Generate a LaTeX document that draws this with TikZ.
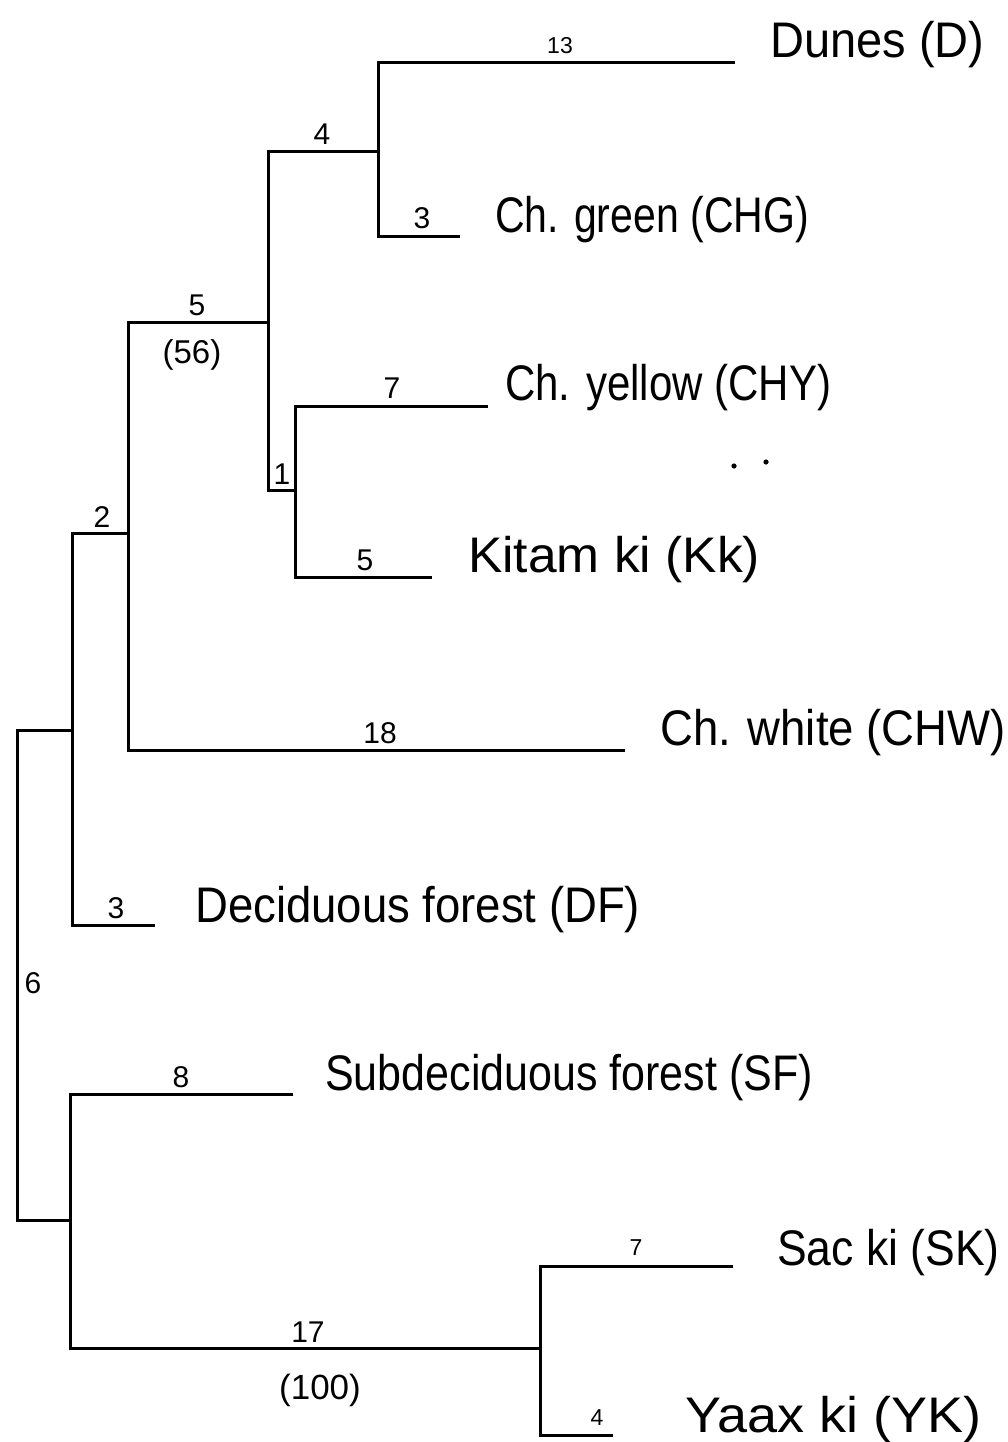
\documentclass[tikz,border=0pt]{standalone}
\usepackage{fontspec}
\setmainfont{Liberation Sans}
\newcommand{\hw}[2]{\scalebox{#1}[1]{#2}}
\begin{document}
\begin{tikzpicture}[x=1pt,y=-1pt,
  br/.style={line width=3pt, line join=miter},
  num/.style={font=\fontsize{30}{32}\selectfont, inner sep=0pt},
  snum/.style={font=\fontsize{23}{25}\selectfont, inner sep=0pt},
  leaf/.style={font=\fontsize{50}{56}\selectfont, anchor=base west, inner sep=0pt}]
\useasboundingbox[fill=white] (0,0) rectangle (1008,1442);

% leaf ends
\coordinate (Dend)   at (735,63);
\coordinate (CHGend) at (460,236);
\coordinate (CHYend) at (488,406);
\coordinate (KKend)  at (432,577);
\coordinate (CHWend) at (625,750);
\coordinate (DFend)  at (155,925);
\coordinate (SFend)  at (293,1094);
\coordinate (SKend)  at (733,1266);
\coordinate (YKend)  at (613,1435);
% internal nodes (x of vertical bar, y where parent branch attaches)
\coordinate (a) at (378,152);
\coordinate (b) at (295,490);
\coordinate (c) at (268,322);
\coordinate (d) at (128,533);
\coordinate (e) at (72,730);
\coordinate (f) at (540,1348);
\coordinate (g) at (70,1220);
\coordinate (r) at (17,975);

% branches
\draw[br] (Dend) -- (Dend -| a) -- (CHGend -| a) -- (CHGend);
\draw[br] (CHYend) -- (CHYend -| b) -- (KKend -| b) -- (KKend);
\draw[br] (a) -- (a -| c) -- (b -| c) -- (b);
\draw[br] (c) -- (c -| d) -- (CHWend -| d) -- (CHWend);
\draw[br] (d) -- (d -| e) -- (DFend -| e) -- (DFend);
\draw[br] (SKend) -- (SKend -| f) -- (YKend -| f) -- (YKend);
\draw[br] (SFend) -- (SFend -| g) -- (f -| g) -- (f);
\draw[br] (e) -- (e -| r) -- (g -| r) -- (g);

% branch numbers
\node[snum] (n13)  at (560,46)  {13};
\node[num]  (n4)   at (322,134) {4};
\node[num]  (n3a)  at (422,218) {3};
\node[num]  (n5a)  at (197,305) {5};
\node[num,font=\fontsize{33}{35}\selectfont]  (n56)  at (192,355) {(56)};
\node[num]  (n7a)  at (392,388) {7};
\node[num]  (n1)   at (282,474) {1};
\node[num]  (n5b)  at (365,560) {5};
\node[num]  (n2)   at (102,517) {2};
\node[num]  (n18)  at (380,733) {18};
\node[num]  (n3b)  at (116,908) {3};
\node[num]  (n6)   at (33,983)  {6};
\node[num]  (n8)   at (181,1077) {8};
\node[num]  (n17)  at (308,1332) {17};
\node[num,font=\fontsize{35}{37}\selectfont] (n100) at (320,1390) {(100)};
\node[snum] (n7b)  at (636,1248) {7};
\node[snum] (n4b)  at (597,1418) {4};

% leaf names
\node[leaf] (D)   at (770,58)   {\hw{0.94}{Dunes (D)}};
\node[leaf] (CHG) at (495,232)  {\hw{0.82}{Ch. green (CHG)}};
\node[leaf] (CHY) at (505,400)  {\hw{0.84}{Ch. yellow (CHY)}};
\node[leaf] (KK)  at (468,572)  {\hw{1.03}{Kitam ki (Kk)}};
\node[leaf] (CHW) at (660,745)  {\hw{0.91}{Ch. white (CHW)}};
\node[leaf] (DF)  at (195,922)  {\hw{0.91}{Deciduous forest (DF)}};
\node[leaf] (SF)  at (325,1090) {\hw{0.86}{Subdeciduous forest (SF)}};
\node[leaf] (SK)  at (777,1265) {\hw{0.89}{Sac ki (SK)}};
\node[leaf] (YK)  at (685,1432) {\hw{1.08}{Yaax ki (YK)}};

% stray dots
\fill (734,466) circle (2.6pt);
\fill (766,462) circle (2.6pt);
\end{tikzpicture}
\end{document}
